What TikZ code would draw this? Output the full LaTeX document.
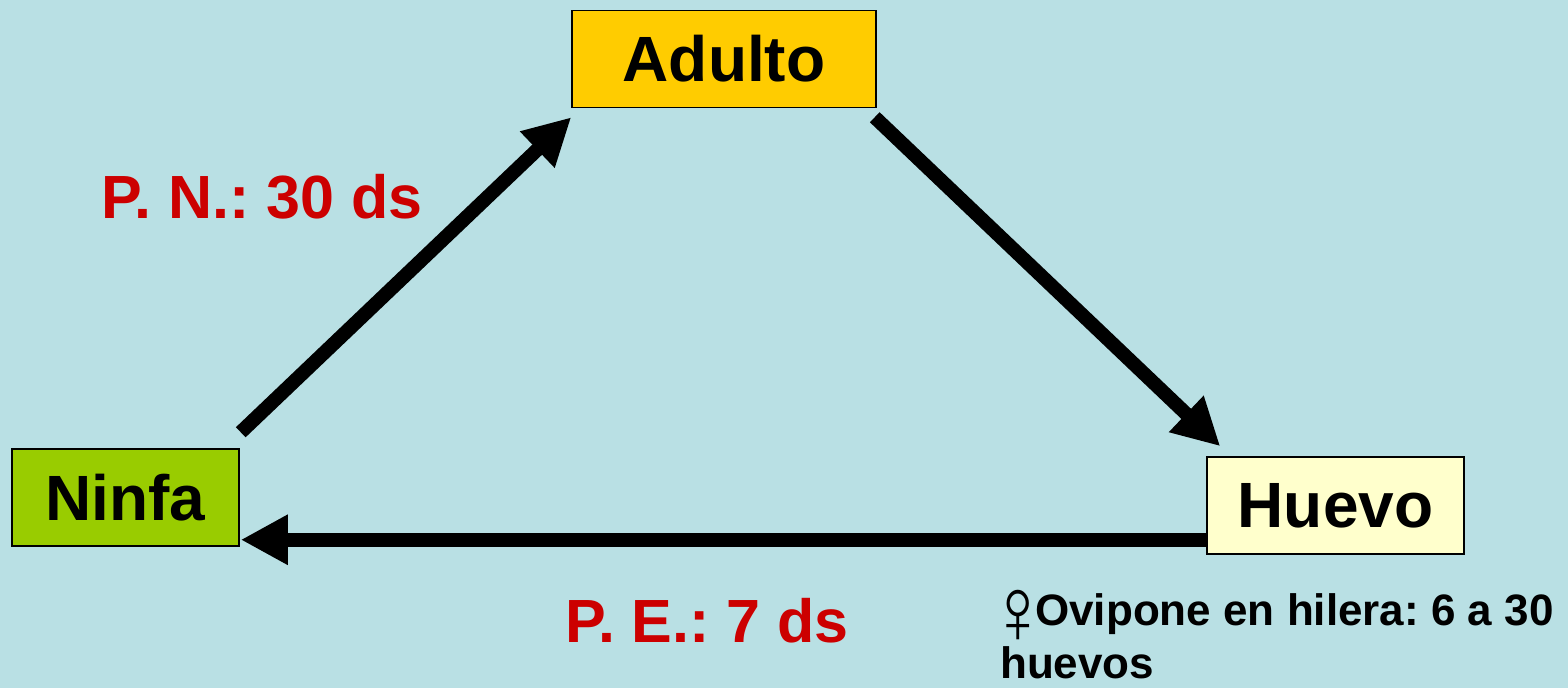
\documentclass[tikz,border=0pt]{standalone}
\usepackage{fontspec}
\setmainfont{Liberation Sans}
\usetikzlibrary{arrows.meta,calc,positioning}
\definecolor{fondo}{RGB}{185,224,228}
\definecolor{amarillo}{RGB}{255,204,0}
\definecolor{verde}{RGB}{153,204,0}
\definecolor{crema}{RGB}{255,255,204}
\definecolor{rojo}{RGB}{204,0,0}
\frenchspacing

\begin{document}
\begin{tikzpicture}[x=1pt,y=-1pt,
    etapa/.style={draw=black,line width=1.5pt,inner sep=0,minimum height=97pt,font=\fontsize{64}{64}\selectfont\bfseries},
    periodo/.style={rojo,inner sep=0,font=\fontsize{61}{61}\selectfont\bfseries},
    flecha/.style={line width=14pt,-{Triangle[length=47pt,width=47pt]}}]
          % Background of the slide
          \fill[fondo] (0,0) rectangle (1568,688);
          \useasboundingbox (0,0) rectangle (1568,688);
          % The three stages of the cycle
          \node[etapa,fill=amarillo,minimum width=304pt] (adulto) at (724,59) {Adulto};
          \node[etapa,fill=verde,minimum width=227pt] (ninfa) at (125.5,497.5) {Ninfa};
          \node[etapa,fill=crema,minimum width=257pt] (huevo) at (1335.5,505.5) {Huevo};
          % Arrows between the stages
          \draw[flecha] ($(ninfa.north east)+(1,-16)$) -- ($(adulto.south west)+(0,9)$);
          \draw[flecha] ($(adulto.south east)+(-2,9)$) -- ($(huevo.north west)+(14,-10)$);
          \draw[flecha] ($(huevo.south west)+(0,-15)$) -- ($(ninfa.south east)+(1,-7)$);
          % Durations
          \node[periodo] (pn) at (262,197) {P. N.: 30 ds};
          \node[periodo] (pe) at (707,621) {P. E.: 7 ds};
          % Note about the eggs (baseline of the last line)
          \node[anchor=base west,inner sep=0,align=left,font=\fontsize{44}{53}\selectfont\bfseries] (nota) at (1000,678) {\makebox[35pt][c]{\raisebox{-18pt}{\scalebox{1.8}[2.15]{\mdseries ♀}}}Ovipone en hilera: 6 a 30\\huevos};
        \end{tikzpicture}
\end{document}
